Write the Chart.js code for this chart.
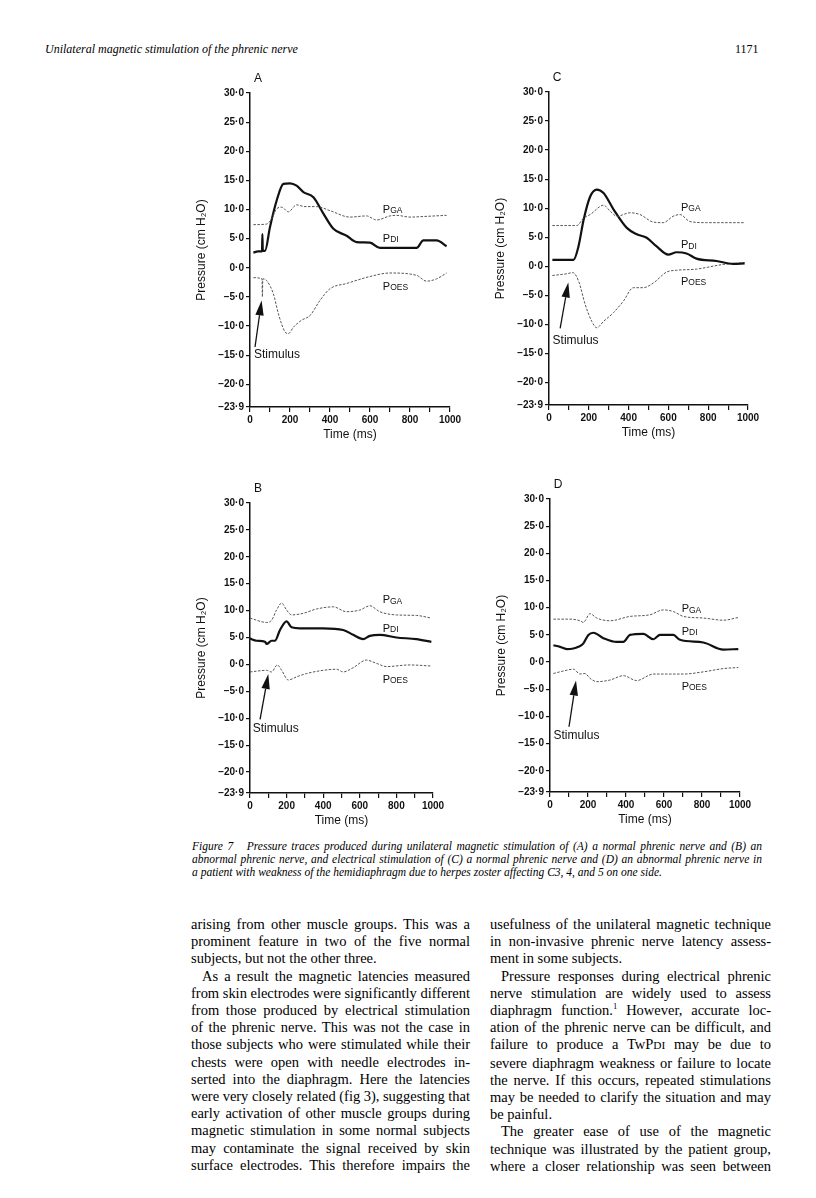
<!DOCTYPE html>
<html>
<head>
<meta charset="utf-8">
<script src="https://cdn.jsdelivr.net/npm/chart.js@4.4.1/dist/chart.umd.min.js"></script>
<style>
html, body { margin: 0; padding: 0; background: #fff; }
body {
    width: 816px; height: 1198px; position: relative; overflow: hidden;
    font-family: "Liberation Serif", "DejaVu Serif", serif; color: #000;
}
canvas { position: absolute; }
.hdr { position: absolute; top: 42px; font-size: 12px; line-height: 15px; }
.cap { position: absolute; left: 192px; top: 840px; width: 570px; font-style: italic; font-size: 11.5px; line-height: 13px; }
.col { position: absolute; top: 916px; font-size: 14.5px; line-height: 17.2px; }
.ln { white-space: nowrap; box-sizing: border-box; width: 100%; }
.ind { padding-left: 11px; }
.sc { font-size: 0.78em; }
sup { font-size: 0.6em; line-height: 0; }
</style>
</head>
<body>

<div class="hdr" style="left:45px;font-style:italic;">Unilateral magnetic stimulation of the phrenic nerve</div>
<div class="hdr" style="left:735px;">1171</div>

<div class="cap">
    <div class="ln j"><span>Figure 7&nbsp;&nbsp; Pressure traces produced during unilateral magnetic stimulation of (A) a normal phrenic nerve and (B) an</span></div>
    <div class="ln j"><span>abnormal phrenic nerve, and electrical stimulation of (C) a normal phrenic nerve and (D) an abnormal phrenic nerve in</span></div>
    <div class="ln"><span>a patient with weakness of the hemidiaphragm due to herpes zoster affecting C3, 4, and 5 on one side.</span></div>
</div>

<div class="col" style="left:191px;width:279px;">
    <div class="ln j"><span>arising from other muscle groups. This was a</span></div>
    <div class="ln j"><span>prominent feature in two of the five normal</span></div>
    <div class="ln"><span>subjects, but not the other three.</span></div>
    <div class="ln j ind"><span>As a result the magnetic latencies measured</span></div>
    <div class="ln j"><span>from skin electrodes were significantly different</span></div>
    <div class="ln j"><span>from those produced by electrical stimulation</span></div>
    <div class="ln j"><span>of the phrenic nerve. This was not the case in</span></div>
    <div class="ln j"><span>those subjects who were stimulated while their</span></div>
    <div class="ln j"><span>chests were open with needle electrodes in-</span></div>
    <div class="ln j"><span>serted into the diaphragm. Here the latencies</span></div>
    <div class="ln j"><span>were very closely related (fig 3), suggesting that</span></div>
    <div class="ln j"><span>early activation of other muscle groups during</span></div>
    <div class="ln j"><span>magnetic stimulation in some normal subjects</span></div>
    <div class="ln j"><span>may contaminate the signal received by skin</span></div>
    <div class="ln j"><span>surface electrodes. This therefore impairs the</span></div>
</div>

<div class="col" style="left:490px;width:281px;">
    <div class="ln j"><span>usefulness of the unilateral magnetic technique</span></div>
    <div class="ln j"><span>in non-invasive phrenic nerve latency assess-</span></div>
    <div class="ln"><span>ment in some subjects.</span></div>
    <div class="ln j ind"><span>Pressure responses during electrical phrenic</span></div>
    <div class="ln j"><span>nerve stimulation are widely used to assess</span></div>
    <div class="ln j"><span>diaphragm function.<sup>1</sup> However, accurate loc-</span></div>
    <div class="ln j"><span>ation of the phrenic nerve can be difficult, and</span></div>
    <div class="ln j"><span>failure to produce a TwP<span class="sc">DI</span> may be due to</span></div>
    <div class="ln j"><span>severe diaphragm weakness or failure to locate</span></div>
    <div class="ln j"><span>the nerve. If this occurs, repeated stimulations</span></div>
    <div class="ln j"><span>may be needed to clarify the situation and may</span></div>
    <div class="ln"><span>be painful.</span></div>
    <div class="ln j ind"><span>The greater ease of use of the magnetic</span></div>
    <div class="ln j"><span>technique was illustrated by the patient group,</span></div>
    <div class="ln j"><span>where a closer relationship was seen between</span></div>
</div>

<script>
// 坐标轴刻度
const Y_TICKS = [30, 25, 20, 15, 10, 5, 0, -5, -10, -15, -20, -23.9];
const X_TICKS = [0, 100, 200, 300, 400, 500, 600, 700, 800, 900, 1000];
const X_LABELS = ["0", "", "200", "", "400", "", "600", "", "800", "", "1000"];

// 压力曲线 [时间 ms, 压力 cm H2O]
// A: 正常膈神经, 磁刺激
const A_PDI = [[17, 2.6], [40, 2.8], [60, 2.8], [62, 5.8], [64, 2.9], [75, 2.9], [100, 7.0], [133, 11.5], [167, 14.4], [200, 14.5], [233, 14.1], [267, 13.0], [317, 12.1], [367, 9.3], [417, 6.7], [483, 5.5], [533, 4.4], [600, 4.3], [650, 3.4], [733, 3.4], [833, 3.4], [867, 4.7], [933, 4.7], [983, 3.7]];
const A_PGA = [[17, 7.4], [83, 7.5], [108, 8.4], [133, 10.1], [158, 10.4], [192, 9.6], [233, 10.8], [275, 10.5], [333, 10.5], [400, 9.8], [500, 8.7], [583, 8.9], [633, 8.2], [700, 8.9], [733, 9.0], [800, 8.7], [867, 8.8], [983, 9.0]];
const A_POES = [[17, -1.7], [60, -1.9], [62, -5.0], [64, -1.9], [83, -2.2], [117, -4.5], [142, -7.9], [175, -11.0], [192, -11.3], [217, -10.2], [258, -9.0], [300, -8.2], [350, -5.6], [400, -3.6], [483, -2.7], [600, -1.5], [700, -0.9], [833, -1.3], [883, -2.3], [933, -1.9], [983, -0.9]];

// B: 异常膈神经, 磁刺激
const B_PDI = [[0, 4.8], [36, 4.4], [82, 4.2], [91, 3.8], [118, 4.4], [136, 4.4], [164, 6.4], [200, 8.0], [227, 6.9], [273, 6.7], [400, 6.7], [509, 6.4], [564, 5.5], [618, 4.7], [655, 5.3], [709, 5.5], [800, 5.0], [909, 4.7], [991, 4.2]];
const B_PGA = [[0, 8.6], [91, 7.8], [118, 8.2], [145, 10.1], [173, 11.4], [200, 10.1], [227, 9.2], [291, 9.5], [364, 10.3], [455, 10.7], [527, 9.8], [600, 10.1], [655, 10.9], [709, 9.8], [800, 9.2], [909, 9.1], [991, 8.6]];
const B_POES = [[0, -1.4], [91, -1.1], [118, -1.4], [149, -0.1], [173, -1.1], [209, -2.9], [255, -2.3], [309, -1.7], [400, -1.1], [473, -0.9], [509, -1.4], [564, -0.6], [636, 0.8], [691, 0.2], [745, -0.4], [873, -0.1], [991, -0.3]];

// C: 正常膈神经, 电刺激
const C_PDI = [[17, 1.1], [123, 1.1], [148, 3.4], [174, 8.0], [207, 12.0], [240, 13.2], [274, 12.6], [324, 9.8], [391, 6.6], [441, 5.5], [491, 4.9], [541, 3.4], [599, 2.0], [641, 2.4], [691, 2.2], [741, 1.3], [841, 0.9], [925, 0.4], [983, 0.5]];
const C_PGA = [[17, 7.0], [140, 7.0], [174, 8.3], [207, 8.9], [274, 10.5], [307, 9.5], [341, 8.6], [407, 9.2], [457, 8.9], [524, 7.6], [574, 7.5], [624, 8.6], [658, 8.9], [708, 7.7], [791, 7.5], [875, 7.5], [983, 7.5]];
const C_POES = [[17, -1.6], [90, -1.3], [120, -1.1], [149, -2.6], [182, -6.6], [215, -9.5], [240, -10.6], [274, -9.5], [324, -8.0], [374, -6.0], [424, -3.7], [474, -3.7], [524, -2.9], [591, -1.0], [641, -0.7], [741, -0.5], [875, 0.3], [983, 0.6]];

// D: 异常膈神经, 电刺激
const D_PDI = [[18, 3.1], [53, 2.8], [88, 2.4], [123, 2.5], [149, 2.8], [175, 3.4], [202, 5.0], [228, 5.4], [281, 4.4], [351, 3.7], [386, 3.7], [421, 5.0], [491, 5.2], [544, 4.2], [579, 5.0], [649, 5.0], [684, 4.1], [807, 3.6], [912, 2.3], [991, 2.4]];
const D_PGA = [[18, 7.9], [105, 7.9], [158, 7.6], [175, 7.3], [211, 8.9], [246, 8.1], [316, 7.6], [421, 8.4], [526, 8.7], [596, 9.6], [649, 9.3], [702, 8.4], [807, 8.1], [912, 7.7], [991, 8.2]];
const D_POES = [[18, -2.1], [88, -1.5], [123, -1.3], [158, -2.2], [184, -2.1], [211, -3.0], [246, -3.6], [316, -3.3], [386, -2.5], [456, -3.4], [544, -2.2], [632, -2.2], [702, -2.2], [807, -1.8], [912, -1.2], [991, -1.0]];

// 各子图: 绘图区像素框 [left, top, right, bottom], 注释位置用数据坐标
const PANELS = [
    { letter: "A", box: [250, 93, 450, 407], pdi: A_PDI, pga: A_PGA, poes: A_POES,
      notes: { pga: [664, 10.0], pdi: [664, 5.0], poes: [664, -3.3], stim: [20, -15.0], from: [25, -13.6], to: [58, -5.6] } },
    { letter: "C", box: [549, 92, 748, 405], pdi: C_PDI, pga: C_PGA, poes: C_POES,
      notes: { pga: [663, 10.1], pdi: [663, 3.6], poes: [663, -2.7], stim: [18, -12.8], from: [56, -10.7], to: [97, -2.8] } },
    { letter: "B", box: [250, 503, 433, 793], pdi: B_PDI, pga: B_PGA, poes: B_POES,
      notes: { pga: [725, 11.9], pdi: [725, 6.6], poes: [725, -2.9], stim: [15, -11.9], from: [55, -10.2], to: [100, -1.8] } },
    { letter: "D", box: [550, 499, 740, 792], pdi: D_PDI, pga: D_PGA, poes: D_POES,
      notes: { pga: [693, 9.7], pdi: [693, 5.6], poes: [693, -4.6], stim: [18, -13.5], from: [100, -11.9], to: [137, -3.4] } },
];

const Y_AXIS_W = 60;
const X_AXIS_H = 39;
const PAD_TOP = 33;
const PAD_RIGHT = 22;
const SANS = '"Liberation Sans", Arial, sans-serif';

function fmtTick(v) {
    const s = Math.abs(v).toFixed(1).replace(".", "\u00b7");
    return v < 0 ? "\u2212" + s : s;
}

function toXY(pairs) {
    return pairs.map((p) => ({ x: p[0], y: p[1] }));
}

// P 加小号大写下标, 如 PGA / PDI / POES
function drawPLabel(ctx, small, x, y) {
    ctx.font = "11px " + SANS;
    ctx.fillText("P", x, y);
    const w = ctx.measureText("P").width;
    ctx.font = "8.5px " + SANS;
    ctx.fillText(small, x + w, y + 1);
}

function drawArrow(ctx, a, b) {
    const ang = Math.atan2(b[1] - a[1], b[0] - a[0]);
    const len = 15, half = 4.2;
    const bx = b[0] - Math.cos(ang) * len, by = b[1] - Math.sin(ang) * len;
    ctx.strokeStyle = "#111";
    ctx.lineWidth = 1.3;
    ctx.beginPath();
    ctx.moveTo(a[0], a[1]);
    ctx.lineTo(bx, by);
    ctx.stroke();
    ctx.beginPath();
    ctx.moveTo(b[0], b[1]);
    ctx.lineTo(bx + Math.sin(ang) * half, by - Math.cos(ang) * half);
    ctx.lineTo(bx - Math.sin(ang) * half, by + Math.cos(ang) * half);
    ctx.closePath();
    ctx.fill();
}

// 自定义插件: 子图字母, 曲线标签和刺激箭头
const notesPlugin = {
    id: "notes",
    afterDatasetsDraw(chart, args, opts) {
        const { ctx, chartArea } = chart;
        const xs = chart.scales.x, ys = chart.scales.y;
        const px = (p) => [xs.getPixelForValue(p[0]), ys.getPixelForValue(p[1])];
        const n = opts.notes;
        ctx.save();
        ctx.fillStyle = "#111";
        ctx.textBaseline = "middle";
        ctx.textAlign = "center";
        ctx.font = "12px " + SANS;
        ctx.fillText(opts.letter, chartArea.left + 8, chartArea.top - 14);
        ctx.textAlign = "left";
        let p = px(n.pga); drawPLabel(ctx, "GA", p[0], p[1]);
        p = px(n.pdi); drawPLabel(ctx, "DI", p[0], p[1]);
        p = px(n.poes); drawPLabel(ctx, "OES", p[0], p[1]);
        p = px(n.stim);
        ctx.font = "12px " + SANS;
        ctx.fillText("Stimulus", p[0], p[1]);
        drawArrow(ctx, px(n.from), px(n.to));
        ctx.restore();
    },
};

function createPanel(panel) {
    const [l, t, r, b] = panel.box;
    const canvas = document.createElement("canvas");
    canvas.width = r - l + Y_AXIS_W + PAD_RIGHT;
    canvas.height = b - t + PAD_TOP + X_AXIS_H;
    canvas.style.left = l - Y_AXIS_W + "px";
    canvas.style.top = t - PAD_TOP + "px";
    document.body.appendChild(canvas);

    const thin = { borderColor: "#555", borderWidth: 1, borderDash: [2.5, 1.5] };
    const axisFont = { family: SANS, size: 10, weight: "bold" };
    const titleFont = { family: SANS, size: 12 };

    new Chart(canvas.getContext("2d"), {
        type: "line",
        data: {
            datasets: [
                Object.assign({ label: "Pga", data: toXY(panel.pga) }, thin),
                { label: "Pdi", data: toXY(panel.pdi), borderColor: "#111", borderWidth: 2.2 },
                Object.assign({ label: "Poes", data: toXY(panel.poes) }, thin),
            ],
        },
        options: {
            responsive: false,
            animation: false,
            events: [],
            layout: { padding: { top: PAD_TOP, right: PAD_RIGHT, left: 0, bottom: 0 } },
            elements: {
                point: { radius: 0 },
                line: { cubicInterpolationMode: "monotone", fill: false },
            },
            scales: {
                x: {
                    type: "linear",
                    min: 0,
                    max: 1000,
                    afterBuildTicks: (scale) => { scale.ticks = X_TICKS.map((v) => ({ value: v })); },
                    afterFit: (scale) => { scale.height = X_AXIS_H; },
                    ticks: {
                        autoSkip: false, maxRotation: 0, padding: 2, color: "#111", font: axisFont,
                        callback: (v, i) => X_LABELS[i],
                    },
                    grid: { drawOnChartArea: false, color: "#111", lineWidth: 1.2, tickLength: 5 },
                    border: { color: "#111", width: 1.5 },
                    title: { display: true, text: "Time (ms)", color: "#111", font: titleFont, padding: { top: 2, bottom: 4 } },
                },
                y: {
                    min: -23.9,
                    max: 30,
                    afterBuildTicks: (scale) => { scale.ticks = Y_TICKS.map((v) => ({ value: v })); },
                    afterFit: (scale) => { scale.width = Y_AXIS_W; },
                    ticks: { padding: 2, color: "#111", font: axisFont, callback: (v) => fmtTick(v) },
                    grid: { drawOnChartArea: false, color: "#111", lineWidth: 1.2, tickLength: 4 },
                    border: { color: "#111", width: 1.5 },
                    title: { display: true, text: "Pressure (cm H\u2082O)", color: "#111", font: titleFont, padding: { top: 4, bottom: 2 } },
                },
            },
            plugins: {
                legend: { display: false },
                tooltip: { enabled: false },
                notes: { letter: panel.letter, notes: panel.notes },
            },
        },
        plugins: [notesPlugin],
    });
}

// 两端对齐: 按行调整词间距
function justifyLines() {
    document.querySelectorAll(".ln").forEach(function (el) {
        const span = el.firstElementChild;
        const padL = parseFloat(getComputedStyle(el).paddingLeft) || 0;
        const target = el.clientWidth - padL;
        const w = span.getBoundingClientRect().width;
        const text = span.textContent;
        const gaps = (text.match(/[ \u00a0]/g) || []).length;
        if (w > target) {
            span.style.letterSpacing = -(w - target) / text.length + "px";
        } else if (el.classList.contains("j") && gaps) {
            span.style.wordSpacing = (target - w) / gaps + "px";
        }
    });
}

justifyLines();
PANELS.forEach(createPanel);
</script>
</body>
</html>
